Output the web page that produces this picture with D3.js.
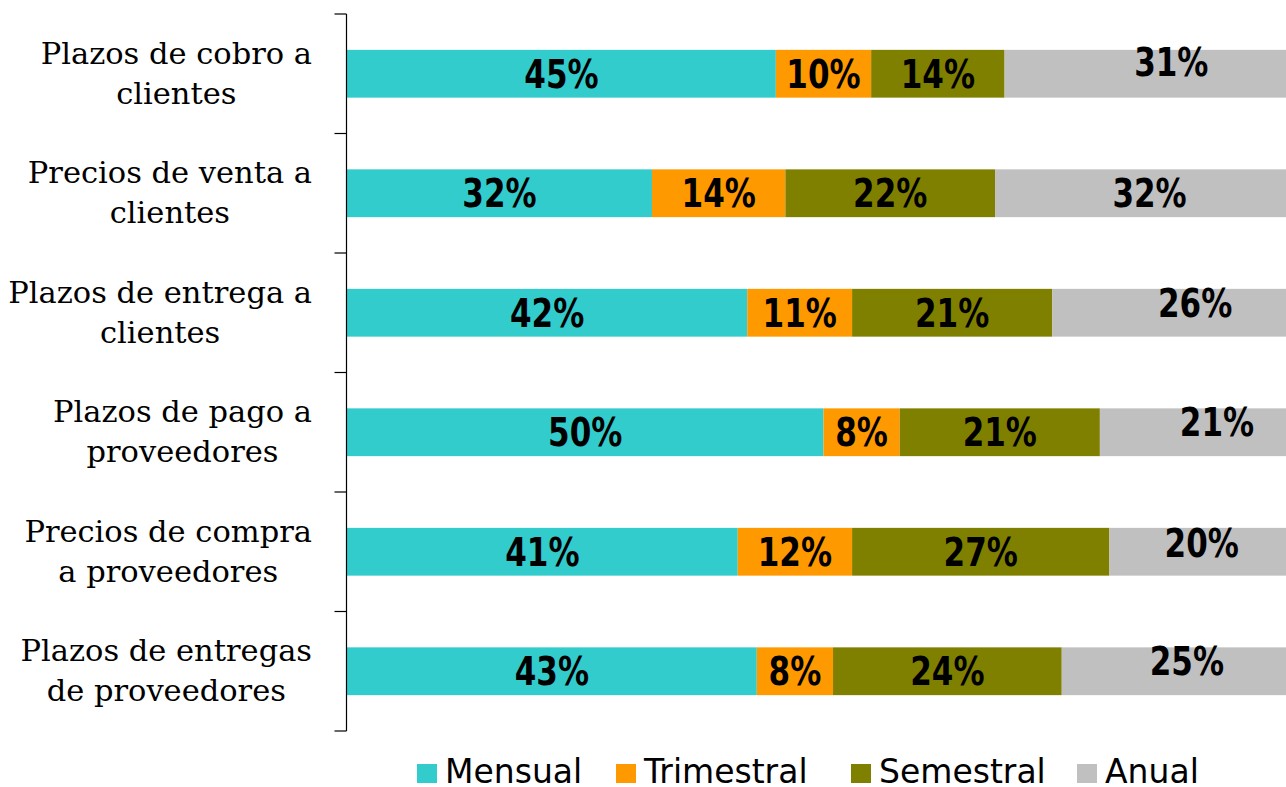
<!DOCTYPE html>
<html>
<head>
<meta charset="utf-8">
<script src="https://cdn.jsdelivr.net/npm/d3@7.9.0/dist/d3.min.js"></script>
<style>
  body { margin: 0; background: #fff; }
  svg { display: block; }
</style>
</head>
<body>
<svg id="chart" width="1286" height="787"></svg>
<script>
const categories = [
  "Plazos de cobro a clientes",
  "Precios de venta a clientes",
  "Plazos de entrega a clientes",
  "Plazos de pago a proveedores",
  "Precios de compra a proveedores",
  "Plazos de entregas de proveedores"
];
const categoryLines = [
  ["Plazos de cobro a", "clientes"],
  ["Precios de venta a", "clientes"],
  ["Plazos de entrega a", "clientes"],
  ["Plazos de pago a", "proveedores"],
  ["Precios de compra", "a proveedores"],
  ["Plazos de entregas", "de proveedores"]
];
const seriesNames = ["Mensual", "Trimestral", "Semestral", "Anual"];
const mensual = [45, 32, 42, 50, 41, 43];
const trimestral = [10, 14, 11, 8, 12, 8];
const semestral = [14, 22, 21, 21, 27, 24];
const anual = [31, 32, 26, 21, 20, 25];
const seriesColors = ["#33cccc", "#ff9900", "#808000", "#c0c0c0"];

const svg = d3.select("#chart");

// table for d3.stack
const rows = categories.map((c, i) => ({
  cat: c,
  Mensual: mensual[i],
  Trimestral: trimestral[i],
  Semestral: semestral[i],
  Anual: anual[i]
}));
const stacked = d3.stack().keys(seriesNames)(rows);

const x = d3.scaleLinear().domain([0, 100]).range([347, 1300]);
const y = d3.scaleBand().domain(categories).range([14, 731])
  .paddingInner(0.6).paddingOuter(0.3);
const color = d3.scaleOrdinal().domain(seriesNames).range(seriesColors);

// bars
const layer = svg.append("g").selectAll("g")
  .data(stacked)
  .join("g")
  .attr("fill", d => color(d.key));

layer.selectAll("rect")
  .data(d => d.map(p => ({ key: d.key, p })))
  .join("rect")
  .attr("x", d => x(d.p[0]))
  .attr("y", d => y(d.p.data.cat))
  .attr("width", d => x(d.p[1]) - x(d.p[0]))
  .attr("height", y.bandwidth());

// value labels (the Anual ones were hand-moved in the original)
const anualNudge = [[19, -12], [2, 0], [19, -10], [17, -10], [-3, -9], [6, -10]];
const pctFont = "'DejaVu Sans', Verdana, sans-serif";
svg.append("g").selectAll("g")
  .data(stacked)
  .join("g")
  .selectAll("text")
  .data(d => d.map((p, i) => ({ key: d.key, p, i })))
  .join("text")
  .attr("transform", d => {
    let cx = (x(d.p[0]) + x(d.p[1])) / 2;
    let cy = y(d.p.data.cat) + y.bandwidth() / 2 + 14;
    if (d.key === "Anual") {
      cx += anualNudge[d.i][0];
      cy += anualNudge[d.i][1];
    }
    return `translate(${cx},${cy}) scale(0.97,1.22)`;
  })
  .attr("text-anchor", "middle")
  .attr("font-family", pctFont)
  .attr("font-weight", "bold")
  .attr("font-size", 32)
  .attr("fill", "#000")
  .text(d => (d.p[1] - d.p[0]) + "%");

// axis: line with ticks at band boundaries, pointing left
const axisX = 346.5;
const bounds = categories.map(c => y(c) - y.step() * y.paddingInner() / 2)
  .concat([y.range()[1]]);
const axis = svg.append("g").attr("stroke", "#000").attr("stroke-width", 1.2);
axis.append("line")
  .attr("x1", axisX).attr("x2", axisX)
  .attr("y1", y.range()[0]).attr("y2", y.range()[1]);
axis.selectAll("line.tick")
  .data(bounds)
  .join("line")
  .attr("class", "tick")
  .attr("x1", axisX - 12).attr("x2", axisX)
  .attr("y1", d => d).attr("y2", d => d);

// category labels: block right-aligned, lines centered
const catFont = "'DejaVu Serif', Georgia, serif";
const labels = svg.append("g");
categories.forEach((c, i) => {
  const cy = y(c) + y.bandwidth() / 2;
  const t = labels.append("text")
    .attr("font-family", catFont)
    .attr("font-size", 30.5)
    .attr("fill", "#000")
    .attr("text-anchor", "middle");
  const spans = categoryLines[i].map((line, j) =>
    t.append("tspan").attr("y", cy - 10 + j * 40).text(line));
  const maxW = d3.max(spans, s => s.node().getComputedTextLength());
  spans.forEach(s => s.attr("x", 312 - maxW / 2));
});

// legend
const legendFont = "'DejaVu Sans', Verdana, sans-serif";
const legendX = [417, 616, 851, 1077];
const lg = svg.append("g").selectAll("g")
  .data(seriesNames)
  .join("g")
  .attr("transform", (d, i) => `translate(${legendX[i]},783)`);
lg.append("rect")
  .attr("x", 0).attr("y", -19)
  .attr("width", 20).attr("height", 19)
  .attr("fill", d => color(d));
lg.append("text")
  .attr("x", 28)
  .attr("font-family", legendFont)
  .attr("font-size", 33)
  .attr("fill", "#000")
  .text(d => d);
</script>
</body>
</html>
